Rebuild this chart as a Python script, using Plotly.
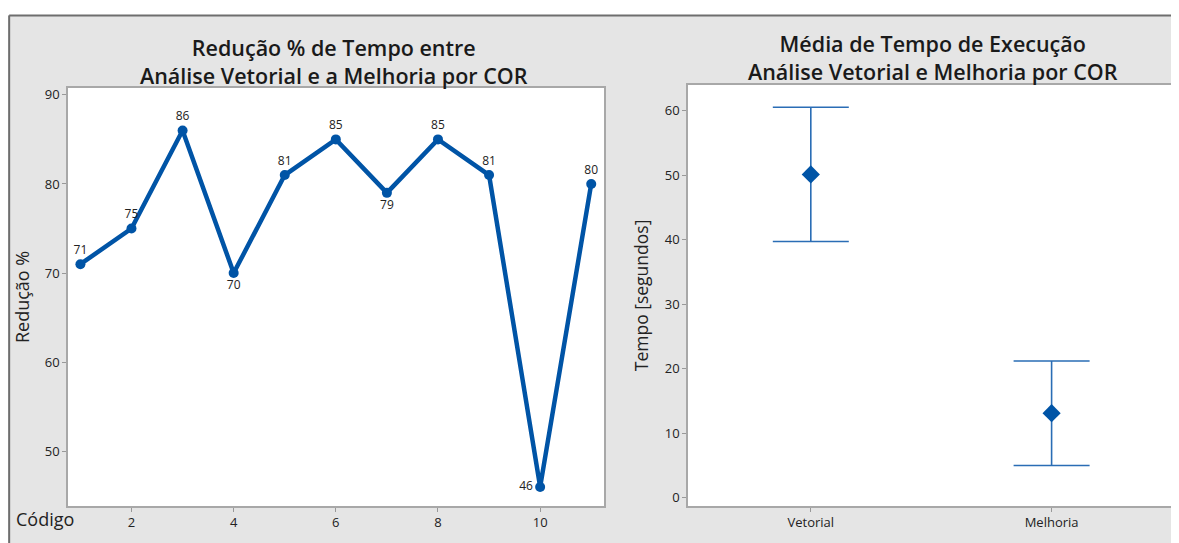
import plotly.graph_objects as go

# Left chart data
codigo = [1, 2, 3, 4, 5, 6, 7, 8, 9, 10, 11]
reducao = [71, 75, 86, 70, 81, 85, 79, 85, 81, 46, 80]
label_pos = ["top center", "top center", "top center", "bottom center", "top center",
             "top center", "bottom center", "top center", "top center", "middle left", "top center"]

# Right chart data
metodos = ["Vetorial", "Melhoria"]
media = [50.1, 13.1]
erro = [10.4, 8.1]

# page is offset by the default 8px body margin
OFF = 8
W, H = 1179 - OFF, 543 - OFF
BLUE = "#0054A6"
FONT = "Open Sans, Noto Sans"


def dx(px):
    return (px - OFF) / W


def dy(px):
    return 1 - (px - OFF) / H


fig = go.Figure()

fig.add_trace(go.Scatter(
    x=codigo, y=reducao, mode="lines+markers+text",
    text=[str(v) for v in reducao], textposition=label_pos,
    textfont=dict(family=FONT, size=12, color="#222"),
    line=dict(color=BLUE, width=4.5), marker=dict(color=BLUE, size=10),
    xaxis="x", yaxis="y", showlegend=False, cliponaxis=False))

fig.add_trace(go.Scatter(
    x=metodos, y=media, mode="markers",
    marker=dict(color=BLUE, size=14, symbol="diamond"),
    error_y=dict(type="data", array=erro, visible=True, color="#2a6db5",
                 thickness=1.6, width=38),
    xaxis="x2", yaxis="y2", showlegend=False))

tickfont = dict(family=FONT, size=13, color="#222")
axcommon = dict(showgrid=False, zeroline=False, showline=True, mirror=True,
                linecolor="#a8a8a8", linewidth=1.5, ticks="outside", ticklen=4,
                tickcolor="#999", tickfont=tickfont)

fig.update_layout(
    width=W, height=H,
    margin=dict(l=0, r=0, t=0, b=0),
    paper_bgcolor="#e5e5e5", plot_bgcolor="white",
    xaxis=dict(domain=[dx(68), dx(604)], range=[0.757, 11.25],
               tickvals=[2, 4, 6, 8, 10], anchor="y", **axcommon),
    yaxis=dict(domain=[dy(506), dy(86)], range=[43.85, 90.8],
               tickvals=[50, 60, 70, 80, 90], anchor="x",
               title=dict(text="Redução %", standoff=10,
                          font=dict(family=FONT, size=18, color="#222")),
               **axcommon),
    xaxis2=dict(domain=[dx(688), dx(1172)], range=[-0.51, 1.5],
                type="category", anchor="y2", **axcommon),
    yaxis2=dict(domain=[dy(506), dy(83)], range=[-1.3, 64.0],
                tickvals=[0, 10, 20, 30, 40, 50, 60], anchor="x2",
                title=dict(text="Tempo [segundos]", standoff=12,
                           font=dict(family=FONT, size=17.5, color="#222")),
                **axcommon),
    shapes=[
        dict(type="rect", xref="paper", yref="paper", x0=-0.01, x1=1.01, y0=dy(13), y1=1.01,
             fillcolor="white", line=dict(width=0), layer="below"),
        dict(type="line", xref="paper", yref="paper", x0=0.001, x1=1.01, y0=dy(13.5), y1=dy(13.5),
             line=dict(color="#6e6e6e", width=2), layer="above"),
        dict(type="line", xref="paper", yref="paper", x0=0.001, x1=0.001, y0=-0.01, y1=dy(13.5),
             line=dict(color="#6e6e6e", width=2), layer="above"),
    ],
    annotations=[
        dict(text="Redução % de Tempo entre<br>Análise Vetorial e a Melhoria por COR",
             xref="paper", yref="paper", x=dx(334), y=dy(60), xanchor="center", yanchor="middle",
             showarrow=False, font=dict(family=FONT, size=21.5, color="#1a1a1a", weight=600)),
        dict(text="Média de Tempo de Execução<br>Análise Vetorial e Melhoria por COR",
             xref="paper", yref="paper", x=dx(933), y=dy(56), xanchor="center", yanchor="middle",
             showarrow=False, font=dict(family=FONT, size=21.5, color="#1a1a1a", weight=600)),
        dict(text="Código", xref="paper", yref="paper", x=dx(45), y=dy(519),
             xanchor="center", yanchor="middle", showarrow=False,
             font=dict(family=FONT, size=18, color="#222")),
    ],
)

fig.write_html("out.html")
